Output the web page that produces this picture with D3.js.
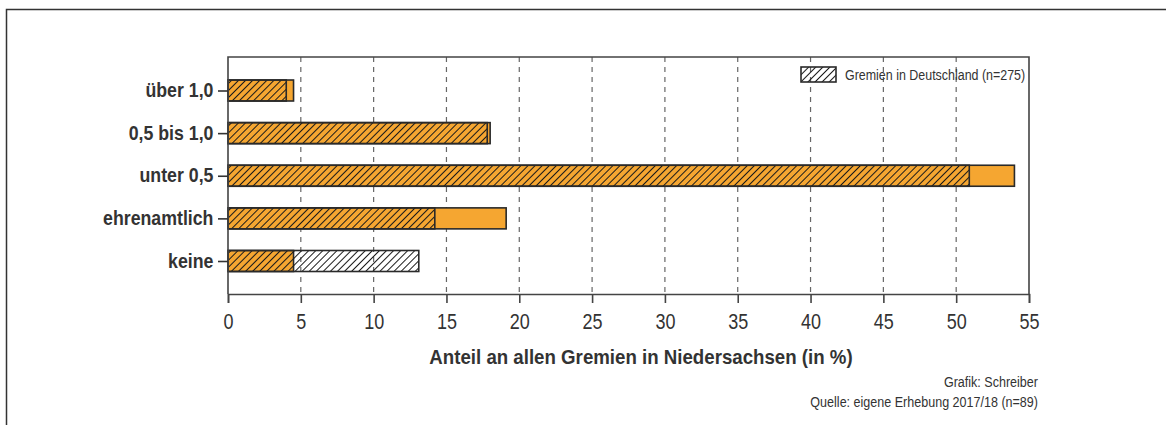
<!DOCTYPE html>
<html>
<head>
<meta charset="utf-8">
<script src="https://cdn.jsdelivr.net/npm/d3@7"></script>
<style>
  html, body { margin: 0; background: #fff; overflow: hidden; }
  svg { display: block; }
</style>
</head>
<body>
<svg id="chart" width="1166" height="425"></svg>
<script>
// Anteile je Kategorie (in %)
const categories = ["über 1,0", "0,5 bis 1,0", "unter 0,5", "ehrenamtlich", "keine"];
const niedersachsen = [4.5, 18.0, 54.0, 19.1, 4.5];
const deutschland = [4.0, 17.8, 50.9, 14.2, 13.1];
const xTicks = [0, 5, 10, 15, 20, 25, 30, 35, 40, 45, 50, 55];

// no narrow font installed, so Liberation Sans gets squeezed horizontally
const sans = "'Liberation Sans', Arial, sans-serif";
const orange = "#f5a631";
const dark = "#2a2a2a";

const plotLeft = 228, plotRight = 1029, plotTop = 57, plotBottom = 294;

const svg = d3.select("#chart");

// hatch pattern
svg.append("defs").append("pattern")
    .attr("id", "hatch")
    .attr("patternUnits", "userSpaceOnUse")
    .attr("width", 5)
    .attr("height", 5)
    .attr("patternTransform", "rotate(45)")
    .append("line")
    .attr("x1", 0).attr("y1", 0)
    .attr("x2", 0).attr("y2", 5)
    .attr("stroke", "#1a1a1a")
    .attr("stroke-width", 2);

// outer frame (only top and left edges are visible)
svg.append("path")
    .attr("d", "M6.5,425V9.5H1166")
    .attr("fill", "none")
    .attr("stroke", "#333")
    .attr("stroke-width", 1.5);

const x = d3.scaleLinear().domain([0, 55]).range([plotLeft, plotRight]);
const y = d3.scalePoint().domain(categories).range([90.5, 261]);
const barH = 21;

// gridlines
svg.append("g")
    .selectAll("line")
    .data(xTicks.filter(d => d > 0 && d < 55))
    .join("line")
    .attr("x1", d => x(d)).attr("x2", d => x(d))
    .attr("y1", plotTop).attr("y2", plotBottom)
    .attr("stroke", "#666")
    .attr("stroke-width", 1.2)
    .attr("stroke-dasharray", "5,5");

const rows = categories.map((c, i) => ({cat: c, ni: niedersachsen[i], de: deutschland[i]}));

// Niedersachsen bars
svg.append("g")
    .selectAll("rect")
    .data(rows)
    .join("rect")
    .attr("x", x(0))
    .attr("y", d => y(d.cat) - barH / 2)
    .attr("width", d => x(d.ni) - x(0))
    .attr("height", barH)
    .attr("fill", orange)
    .attr("stroke", dark)
    .attr("stroke-width", 1.6);

// Deutschland hatch overlay
svg.append("g")
    .selectAll("rect")
    .data(rows)
    .join("rect")
    .attr("x", x(0))
    .attr("y", d => y(d.cat) - barH / 2)
    .attr("width", d => x(d.de) - x(0))
    .attr("height", barH)
    .attr("fill", "url(#hatch)")
    .attr("stroke", dark)
    .attr("stroke-width", 1.6);

// plot box (left, top, right)
svg.append("path")
    .attr("d", `M${plotLeft},${plotBottom}V${plotTop}H${plotRight}V${plotBottom}`)
    .attr("fill", "none")
    .attr("stroke", "#444")
    .attr("stroke-width", 1.6);

// x axis
const xAxis = svg.append("g")
    .attr("transform", `translate(0,${plotBottom})`)
    .call(d3.axisBottom(x).tickValues(xTicks).tickSize(9).tickPadding(10).tickFormat(d3.format("d")));
xAxis.select(".domain").attr("stroke", "#444").attr("stroke-width", 1.6);
xAxis.selectAll(".tick line").attr("stroke", "#444").attr("stroke-width", 1.6);
xAxis.selectAll("text")
    .attr("font-family", sans)
    .attr("font-size", 22.5)
    .attr("transform", "scale(0.8,1)")
    .attr("fill", "#333");

// y axis
const yAxis = svg.append("g")
    .attr("transform", `translate(${plotLeft},0)`)
    .call(d3.axisLeft(y).tickSize(10).tickPadding(6));
yAxis.select(".domain").remove();
yAxis.selectAll(".tick line").attr("stroke", "#333").attr("stroke-width", 1.6);
yAxis.selectAll("text")
    .attr("font-family", sans)
    .attr("font-weight", "bold")
    .attr("font-size", 19.5)
    .attr("transform", "scale(0.91,1)")
    .attr("fill", "#333");

// axis title
svg.append("g")
    .attr("transform", `translate(${(plotLeft + plotRight) / 2 + 12.5},364)`)
    .append("text")
    .attr("transform", "scale(0.92,1)")
    .attr("text-anchor", "middle")
    .attr("font-family", sans)
    .attr("font-weight", "bold")
    .attr("font-size", 20.3)
    .attr("fill", "#333")
    .text("Anteil an allen Gremien in Niedersachsen (in %)");

// legend
const legend = svg.append("g").attr("transform", "translate(801,67)");
legend.append("rect")
    .attr("width", 35).attr("height", 15)
    .attr("fill", "url(#hatch)")
    .attr("stroke", dark)
    .attr("stroke-width", 1.6);
legend.append("g")
    .attr("transform", "translate(44,13)")
    .append("text")
    .attr("transform", "scale(0.82,1)")
    .attr("font-family", sans)
    .attr("font-size", 15.2)
    .attr("fill", "#333")
    .text("Gremien in Deutschland (n=275)");

// credits
const credits = ["Grafik: Schreiber", "Quelle: eigene Erhebung 2017/18 (n=89)"];
svg.append("g")
    .selectAll("g")
    .data(credits)
    .join("g")
    .attr("transform", (d, i) => `translate(1038,${387 + i * 20})`)
    .append("text")
    .attr("transform", "scale(0.82,1)")
    .attr("text-anchor", "end")
    .attr("font-family", sans)
    .attr("font-size", 15.3)
    .attr("fill", "#333")
    .text(d => d);
</script>
</body>
</html>
